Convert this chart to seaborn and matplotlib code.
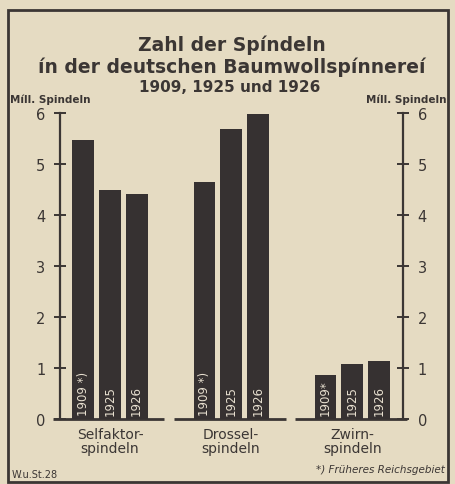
import matplotlib
matplotlib.use("Agg")
import matplotlib.pyplot as plt
import seaborn as sns
import pandas as pd
from matplotlib.patches import Rectangle

# ---- data ----
categories = ["Selfaktor-\nspindeln", "Drossel-\nspindeln", "Zwirn-\nspindeln"]
years = ["1909", "1925", "1926"]
labels_1909 = ["1909 *)", "1909 *)", "1909*"]
labels_1925 = ["1925", "1925", "1925"]
labels_1926 = ["1926", "1926", "1926"]
values_1909 = [5.48, 4.64, 0.87]
values_1925 = [4.50, 5.69, 1.07]
values_1926 = [4.41, 5.98, 1.14]
yticks = [0, 1, 2, 3, 4, 5, 6]

rows = []
for i, c in enumerate(categories):
    for y, v in zip(years, [values_1909[i], values_1925[i], values_1926[i]]):
        rows.append({"cat": c, "year": y, "val": v})
df = pd.DataFrame(rows)

BG = "#e5dbc2"
INK = "#3b3634"
BAR = "#363131"

sns.set_theme(style="white")
plt.rcParams["font.family"] = ["DejaVu Sans"]

W, H = 455, 485
fig = plt.figure(figsize=(W / 100, H / 100), dpi=100, facecolor=BG)
ax = fig.add_axes([60 / W, (H - 420) / H, (403 - 60) / W, (420 - 114) / H])
ax.set_facecolor(BG)

sns.barplot(data=df, x="cat", y="val", hue="year", hue_order=years,
            palette=[BAR, BAR, BAR], width=0.66, gap=0.18, ax=ax, legend=False,
            saturation=1, edgecolor="none")

ax.set_xlim(-0.413, 2.42)
ax.set_ylim(0, 6)

# bar labels (patches ordered by hue then category)
for h, labs in enumerate([labels_1909, labels_1925, labels_1926]):
    for ci in range(3):
        p = ax.patches[h * 3 + ci]
        cx = p.get_x() + p.get_width() / 2
        ax.text(cx, 0.08, labs[ci], rotation=90, ha="center", va="bottom",
                color="#e8e0d0", fontsize=8.5, clip_on=False)

# broken baselines
for ci in range(3):
    ax.hlines(0, ci - 0.47, ci + 0.45, color=INK, lw=2, clip_on=False, zorder=0.5)

for s in ["top", "bottom"]:
    ax.spines[s].set_visible(False)
for s in ["left", "right"]:
    ax.spines[s].set_visible(True)
    ax.spines[s].set_color(INK)
    ax.spines[s].set_linewidth(1.6)

ax.set_yticks(yticks)
ax.set_yticklabels([str(t) for t in yticks])
ax.tick_params(axis="y", which="both", direction="inout", length=9, width=1.4,
               color=INK, labelcolor=INK, labelsize=10.5, left=True, right=True,
               labelleft=True, labelright=True, pad=6)
ax.set_xticks([0, 1, 2])
ax.set_xticklabels(categories)
ax.tick_params(axis="x", length=0, labelsize=10, labelcolor=INK, pad=6)
for t in ax.get_xticklabels():
    t.set_linespacing(1.0)
ax.set_xlabel("")
ax.set_ylabel("")

# titles
fig.text(232 / W, 1 - 45 / H, "Zahl der Spíndeln", ha="center", va="center",
         fontsize=13.5, fontweight="bold", color=INK)
fig.text(232 / W, 1 - 67 / H, "ín der deutschen Baumwollspínnereí", ha="center",
         va="center", fontsize=13.5, fontweight="bold", color=INK)
fig.text(230 / W, 1 - 88 / H, "1909, 1925 und 1926", ha="center", va="center",
         fontsize=11, fontweight="bold", color=INK)
fig.text(10 / W, 1 - 100 / H, "Míll. Spindeln", ha="left", va="center",
         fontsize=7.5, fontweight="bold", color=INK)
fig.text(447 / W, 1 - 100 / H, "Míll. Spindeln", ha="right", va="center",
         fontsize=7.5, fontweight="bold", color=INK)
fig.text(445 / W, 1 - 470 / H, "*) Früheres Reichsgebiet", ha="right", va="center",
         fontsize=7.5, fontstyle="italic", color=INK)
fig.text(12 / W, 1 - 475 / H, "W.u.St.28", ha="left", va="center",
         fontsize=7, color=INK)

# frame
fig.patches.append(Rectangle((8 / W, 2 / H), (448 - 8) / W, (472) / H,
                             transform=fig.transFigure, fill=False,
                             edgecolor=INK, lw=2))

fig.savefig("out.png", dpi=100, facecolor=BG)
